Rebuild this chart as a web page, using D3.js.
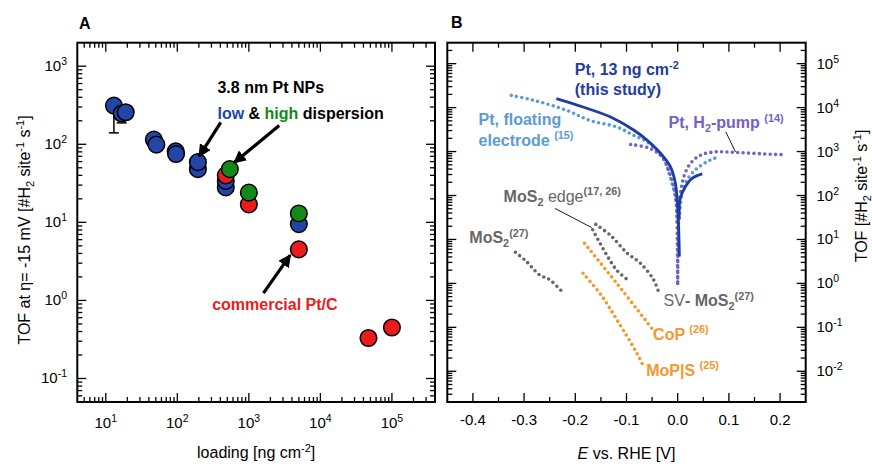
<!DOCTYPE html>
<html>
<head>
<meta charset="utf-8">
<script src="https://cdn.jsdelivr.net/npm/d3@7"></script>
<style>
  body { margin: 0; background: #fff; }
  svg { font-family: "Liberation Sans", Arial, sans-serif; }
</style>
</head>
<body>
<div id="chart"></div>
<script>
const width = 872;
const height = 464;

// panel A: TOF at -15 mV vs loading  [loading ng cm-2, TOF, error low]
const lowDisp = [
  [13, 313, 140], [16.7, 248, 188], [19, 257, null],
  [47, 115, null], [51, 99, null],
  [95, 81, null], [96, 75, null],
  [194, 48, null], [194, 59, null],
  [476, 28, null], [476, 34, null],
  [5000, 9.5, null]
];
const highDisp = [[542, 48], [1000, 24], [5000, 13]];
const commercial = [[476, 40], [1000, 17], [5000, 4.5], [47000, 0.33], [100000, 0.45]];
const xTicksA = [1e1, 1e2, 1e3, 1e4, 1e5];
const yTicksA = [1e-1, 1e0, 1e1, 1e2, 1e3];

// panel B: TOF vs E [V vs RHE]
const ptStudyCath = [[-0.237, 16000], [-0.185, 10350], [-0.132, 6170], [-0.086, 3090], [-0.060, 1820],
  [-0.0275, 760], [-0.014, 447], [-0.0045, 190], [0, 56], [0.002, 16.6], [0.0033, 4.1]];
const ptStudyAnod = [[0.003, 30], [0.005, 87], [0.015, 158], [0.028, 245], [0.048, 310]];
const ptFloatCath = [[-0.325, 19000], [-0.283, 14800], [-0.217, 8700], [-0.172, 5130], [-0.119, 3630],
  [-0.086, 2340], [-0.060, 1660], [-0.0275, 690], [-0.014, 245], [-0.0045, 93], [-0.001, 25]];
const ptFloatAnod = [[0.003, 30], [0.0086, 112], [0.018, 224], [0.038, 417], [0.064, 646], [0.081, 760]];
const ptPumpCath = [[-0.092, 1450], [-0.054, 1175], [-0.031, 760], [-0.018, 380], [-0.008, 158],
  [-0.0026, 66], [-0.0008, 10], [0, 1]];
const ptPumpAnod = [[0, 1], [0.0008, 10], [0.002, 30], [0.005, 102], [0.012, 270], [0.025, 537],
  [0.045, 832], [0.071, 977], [0.097, 977], [0.13, 933], [0.182, 870], [0.205, 850]];
const mos2 = [[-0.317, 5.1], [-0.296, 3.2], [-0.270, 1.57], [-0.250, 1.21], [-0.223, 0.6]];
const mos2Edge = [[-0.166, 16.6], [-0.139, 4.5], [-0.119, 2.0], [-0.096, 1.16]];
const svMos2 = [[-0.160, 22], [-0.131, 12.3], [-0.099, 4.9], [-0.073, 2.9], [-0.047, 1.2], [-0.037, 0.62]];
const coP = [[-0.182, 8.2], [-0.119, 1.0], [-0.05, 0.093]];
const mopS = [[-0.185, 1.7], [-0.150, 0.55], [-0.119, 0.15], [-0.080, 0.026], [-0.067, 0.013]];
const xTicksB = [-0.4, -0.3, -0.2, -0.1, 0.0, 0.1, 0.2];
const yTicksB = [1e-2, 1e-1, 1e0, 1e1, 1e2, 1e3, 1e4, 1e5];

const c = {
  blue: "#2346a6", green: "#13891a", red: "#ec1c1c", dark: "#1f3c9e",
  light: "#5b9bd5", purple: "#7262c4", gray: "#666666", orange: "#f7962d"
};

const frameA = {left: 77.3, right: 435, top: 42.7, bottom: 402};
const frameB = {left: 447.3, right: 805.7, top: 42.7, bottom: 402};

const xA = d3.scaleLog().domain([4, 4e5]).range([frameA.left, frameA.right]);
const yA = d3.scaleLog().domain([0.05, 2000]).range([frameA.bottom, frameA.top]);
const xB = d3.scaleLinear().domain([-0.45, 0.25]).range([frameB.left, frameB.right]);
const yB = d3.scaleLog().domain([0.002, 3e5]).range([frameB.bottom, frameB.top]);

const svg = d3.select("#chart").append("svg")
  .attr("width", width).attr("height", height);

const isMajor = d => Math.abs(Math.log10(d) - Math.round(Math.log10(d))) < 1e-6;

// inward ticks on all four sides of a frame
const frameTicks = (f, x, y) => {
  const g = svg.append("g").attr("stroke", "#000").attr("stroke-width", 1.3);
  const xv = x.base ? x.ticks() : d3.range(-9, 6).map(i => i * 0.05);
  const xm = x.base ? isMajor : (d => Math.abs(Math.round(d * 20)) % 2 === 0);
  const yv = y.ticks();
  xv.forEach(d => {
    const L = xm(d) ? 9 : 5, px = x(d);
    if (px < f.left + 1 || px > f.right - 1) return;
    g.append("line").attr("x1", px).attr("x2", px).attr("y1", f.bottom).attr("y2", f.bottom - L);
    g.append("line").attr("x1", px).attr("x2", px).attr("y1", f.top).attr("y2", f.top + L);
  });
  yv.forEach(d => {
    const L = isMajor(d) ? 9 : 5, py = y(d);
    if (py < f.top + 1 || py > f.bottom - 1) return;
    g.append("line").attr("y1", py).attr("y2", py).attr("x1", f.left).attr("x2", f.left + L);
    g.append("line").attr("y1", py).attr("y2", py).attr("x1", f.right).attr("x2", f.right - L);
  });
  svg.append("rect")
    .attr("x", f.left).attr("y", f.top)
    .attr("width", f.right - f.left).attr("height", f.bottom - f.top)
    .attr("fill", "none").attr("stroke", "#000").attr("stroke-width", 2);
};

const powLabel = (sel, v) => {
  const e = Math.round(Math.log10(v));
  sel.append("tspan").text("10");
  sel.append("tspan").attr("font-size", 10.5).attr("dy", -6).text(e);
};

// text with sub/superscripts: parts = [[text, kind, weight]]
const rich = (t, parts, size) => {
  let shift = 0;
  parts.forEach(([s, kind, w]) => {
    const sp = t.append("tspan").text(s);
    if (w) sp.attr("font-weight", w);
    let target = 0;
    if (kind === "sup") target = -size * 0.4;
    if (kind === "sub") target = size * 0.25;
    if (kind) sp.attr("font-size", size * 0.68);
    sp.attr("dy", target - shift);
    shift = target;
  });
};

// ---------- panel A ----------
svg.append("text").attr("x", 79).attr("y", 29)
  .attr("font-size", 16).attr("font-weight", "bold").text("A");

frameTicks(frameA, xA, yA);

xTicksA.forEach(d => {
  svg.append("text").attr("x", xA(d)).attr("y", frameA.bottom + 26)
    .attr("text-anchor", "middle").attr("font-size", 15).call(powLabel, d);
});
yTicksA.forEach(d => {
  svg.append("text").attr("x", 67).attr("y", yA(d) + 5)
    .attr("text-anchor", "end").attr("font-size", 15).call(powLabel, d);
});

svg.append("text").attr("x", (frameA.left + frameA.right) / 2).attr("y", 458)
  .attr("text-anchor", "middle").attr("font-size", 16)
  .call(rich, [["loading [ng cm"], ["-2", "sup"], ["]"]], 16);

svg.append("text").attr("transform", "translate(30,230) rotate(-90)")
  .attr("text-anchor", "middle").attr("font-size", 16)
  .call(rich, [["TOF at η= -15 mV [#H"], ["2", "sub"], [" site"], ["-1", "sup"], [" s"], ["-1", "sup"], ["]"]], 16);

// error bars
const err = svg.append("g").attr("stroke", "#000").attr("stroke-width", 1.5);
lowDisp.filter(d => d[2]).forEach(d => {
  err.append("line").attr("x1", xA(d[0])).attr("x2", xA(d[0])).attr("y1", yA(d[1])).attr("y2", yA(d[2]));
  err.append("line").attr("x1", xA(d[0]) - 5).attr("x2", xA(d[0]) + 5).attr("y1", yA(d[2])).attr("y2", yA(d[2]));
});

const dots = (data, fill) => {
  svg.append("g").selectAll("circle").data(data).join("circle")
    .attr("cx", d => xA(d[0])).attr("cy", d => yA(d[1])).attr("r", 8.3)
    .attr("fill", fill).attr("stroke", "#000").attr("stroke-width", 1.5);
};
dots(lowDisp, c.blue);
dots(commercial.slice(0, 1), c.red);
dots(highDisp.slice(0, 1), c.green);
dots(commercial.slice(1, 2), c.red);
dots(highDisp.slice(1, 2), c.green);
dots(commercial.slice(2), c.red);
dots(highDisp.slice(2), c.green);

// arrows
svg.append("defs").append("marker")
  .attr("id", "head").attr("viewBox", "0 0 10 10").attr("refX", 9).attr("refY", 5)
  .attr("markerWidth", 4).attr("markerHeight", 4).attr("orient", "auto")
  .append("path").attr("d", "M0,0L10,5L0,10z").attr("fill", "#000");

const arrowsA = [[[405, 191], [202, 70]], [[2655, 174], [622, 58]], [[1600, 1.24], [3785, 3.8]]];
arrowsA.forEach(([a, b]) => {
  svg.append("line").attr("x1", xA(a[0])).attr("y1", yA(a[1])).attr("x2", xA(b[0])).attr("y2", yA(b[1]))
    .attr("stroke", "#000").attr("stroke-width", 3.2).attr("marker-end", "url(#head)");
});

svg.append("text").attr("x", xA(364)).attr("y", yA(460))
  .attr("font-size", 16).attr("font-weight", "bold").text("3.8 nm Pt NPs");
const ld = svg.append("text").attr("x", xA(364)).attr("y", yA(460) + 26)
  .attr("font-size", 16).attr("font-weight", "bold");
ld.append("tspan").attr("fill", c.blue).text("low");
ld.append("tspan").text(" & ");
ld.append("tspan").attr("fill", c.green).text("high");
ld.append("tspan").text(" dispersion");
svg.append("text").attr("x", xA(307)).attr("y", yA(0.745))
  .attr("font-size", 16).attr("font-weight", "bold").attr("fill", c.red).text("commercial Pt/C");

// ---------- panel B ----------
svg.append("text").attr("x", 451).attr("y", 28)
  .attr("font-size", 16).attr("font-weight", "bold").text("B");

frameTicks(frameB, xB, yB);

xTicksB.forEach(d => {
  svg.append("text").attr("x", xB(d)).attr("y", frameB.bottom + 23)
    .attr("text-anchor", "middle").attr("font-size", 15).text(d3.format(".1f")(d).replace("−", "-"));
});
yTicksB.forEach(d => {
  svg.append("text").attr("x", 816.5).attr("y", yB(d) + 5)
    .attr("font-size", 15).call(powLabel, d);
});

const xt = svg.append("text").attr("x", (frameB.left + frameB.right) / 2).attr("y", 459)
  .attr("text-anchor", "middle").attr("font-size", 16);
xt.append("tspan").attr("font-style", "italic").text("E");
xt.append("tspan").text(" vs. RHE [V]");

svg.append("text").attr("transform", "translate(867,196) rotate(-90)")
  .attr("text-anchor", "middle").attr("font-size", 16)
  .call(rich, [["TOF [#H"], ["2", "sub"], [" site"], ["-1", "sup"], [" s"], ["-1", "sup"], ["]"]], 16);

const lineB = d3.line().x(d => xB(d[0])).y(d => yB(d[1])).curve(d3.curveCatmullRom.alpha(0.5));

const plot = svg.append("g");
const dotted = (data, color) => {
  plot.append("path").datum(data).attr("d", lineB).attr("fill", "none")
    .attr("stroke", color).attr("stroke-width", 3.6).attr("stroke-linecap", "round")
    .attr("stroke-dasharray", "0 5.4");
};
dotted(mos2, c.gray);
dotted(mos2Edge, c.gray);
dotted(svMos2, c.gray);
dotted(coP, c.orange);
dotted(mopS, c.orange);
dotted(ptFloatCath, c.light);
dotted(ptFloatAnod, c.light);
dotted(ptPumpCath, c.purple);
dotted(ptPumpAnod, c.purple);
[ptStudyCath, ptStudyAnod].forEach(d => {
  plot.append("path").datum(d).attr("d", lineB).attr("fill", "none")
    .attr("stroke", c.dark).attr("stroke-width", 2.8);
});

// leader lines
const leaders = [[[-0.240, 51], [-0.168, 18.6]], [[0.094, 2800], [0.113, 980]]];
leaders.forEach(([a, b]) => {
  svg.append("line").attr("x1", xB(a[0])).attr("y1", yB(a[1])).attr("x2", xB(b[0])).attr("y2", yB(b[1]))
    .attr("stroke", "#000").attr("stroke-width", 0.9);
});

const labB = (E, tof, color, parts, dy2, parts2) => {
  const t = svg.append("text").attr("x", xB(E)).attr("y", yB(tof))
    .attr("font-size", 16).attr("font-weight", "bold").attr("fill", color);
  rich(t, parts, 16);
  if (parts2) {
    const t2 = svg.append("text").attr("x", xB(E)).attr("y", yB(tof) + dy2)
      .attr("font-size", 16).attr("font-weight", "bold").attr("fill", color);
    rich(t2, parts2, 16);
  }
};
labB(-0.201, 54200, c.dark, [["Pt, 13 ng cm"], ["-2", "sup"]], 20, [["(this study)"]]);
labB(-0.389, 3980, c.light, [["Pt, floating"]], 20.7, [["electrode "], ["(15)", "sup"]]);
labB(-0.018, 3350, c.purple, [["Pt, H"], ["2", "sub"], ["-pump "], ["(14)", "sup"]]);
labB(-0.340, 72, c.gray, [["MoS"], ["2", "sub"], [" edge", null, "normal"], ["(17, 26)", "sup"]]);
labB(-0.407, 8.2, c.gray, [["MoS"], ["2", "sub"], ["(27)", "sup"]]);
labB(-0.0275, 0.30, c.gray, [["SV", null, "normal"], ["- MoS"], ["2", "sub"], ["(27)", "sup"]]);
labB(-0.048, 0.052, c.orange, [["CoP "], ["(26)", "sup"]]);
labB(-0.0615, 0.0079, c.orange, [["MoP|S "], ["(25)", "sup"]]);
</script>
</body>
</html>
